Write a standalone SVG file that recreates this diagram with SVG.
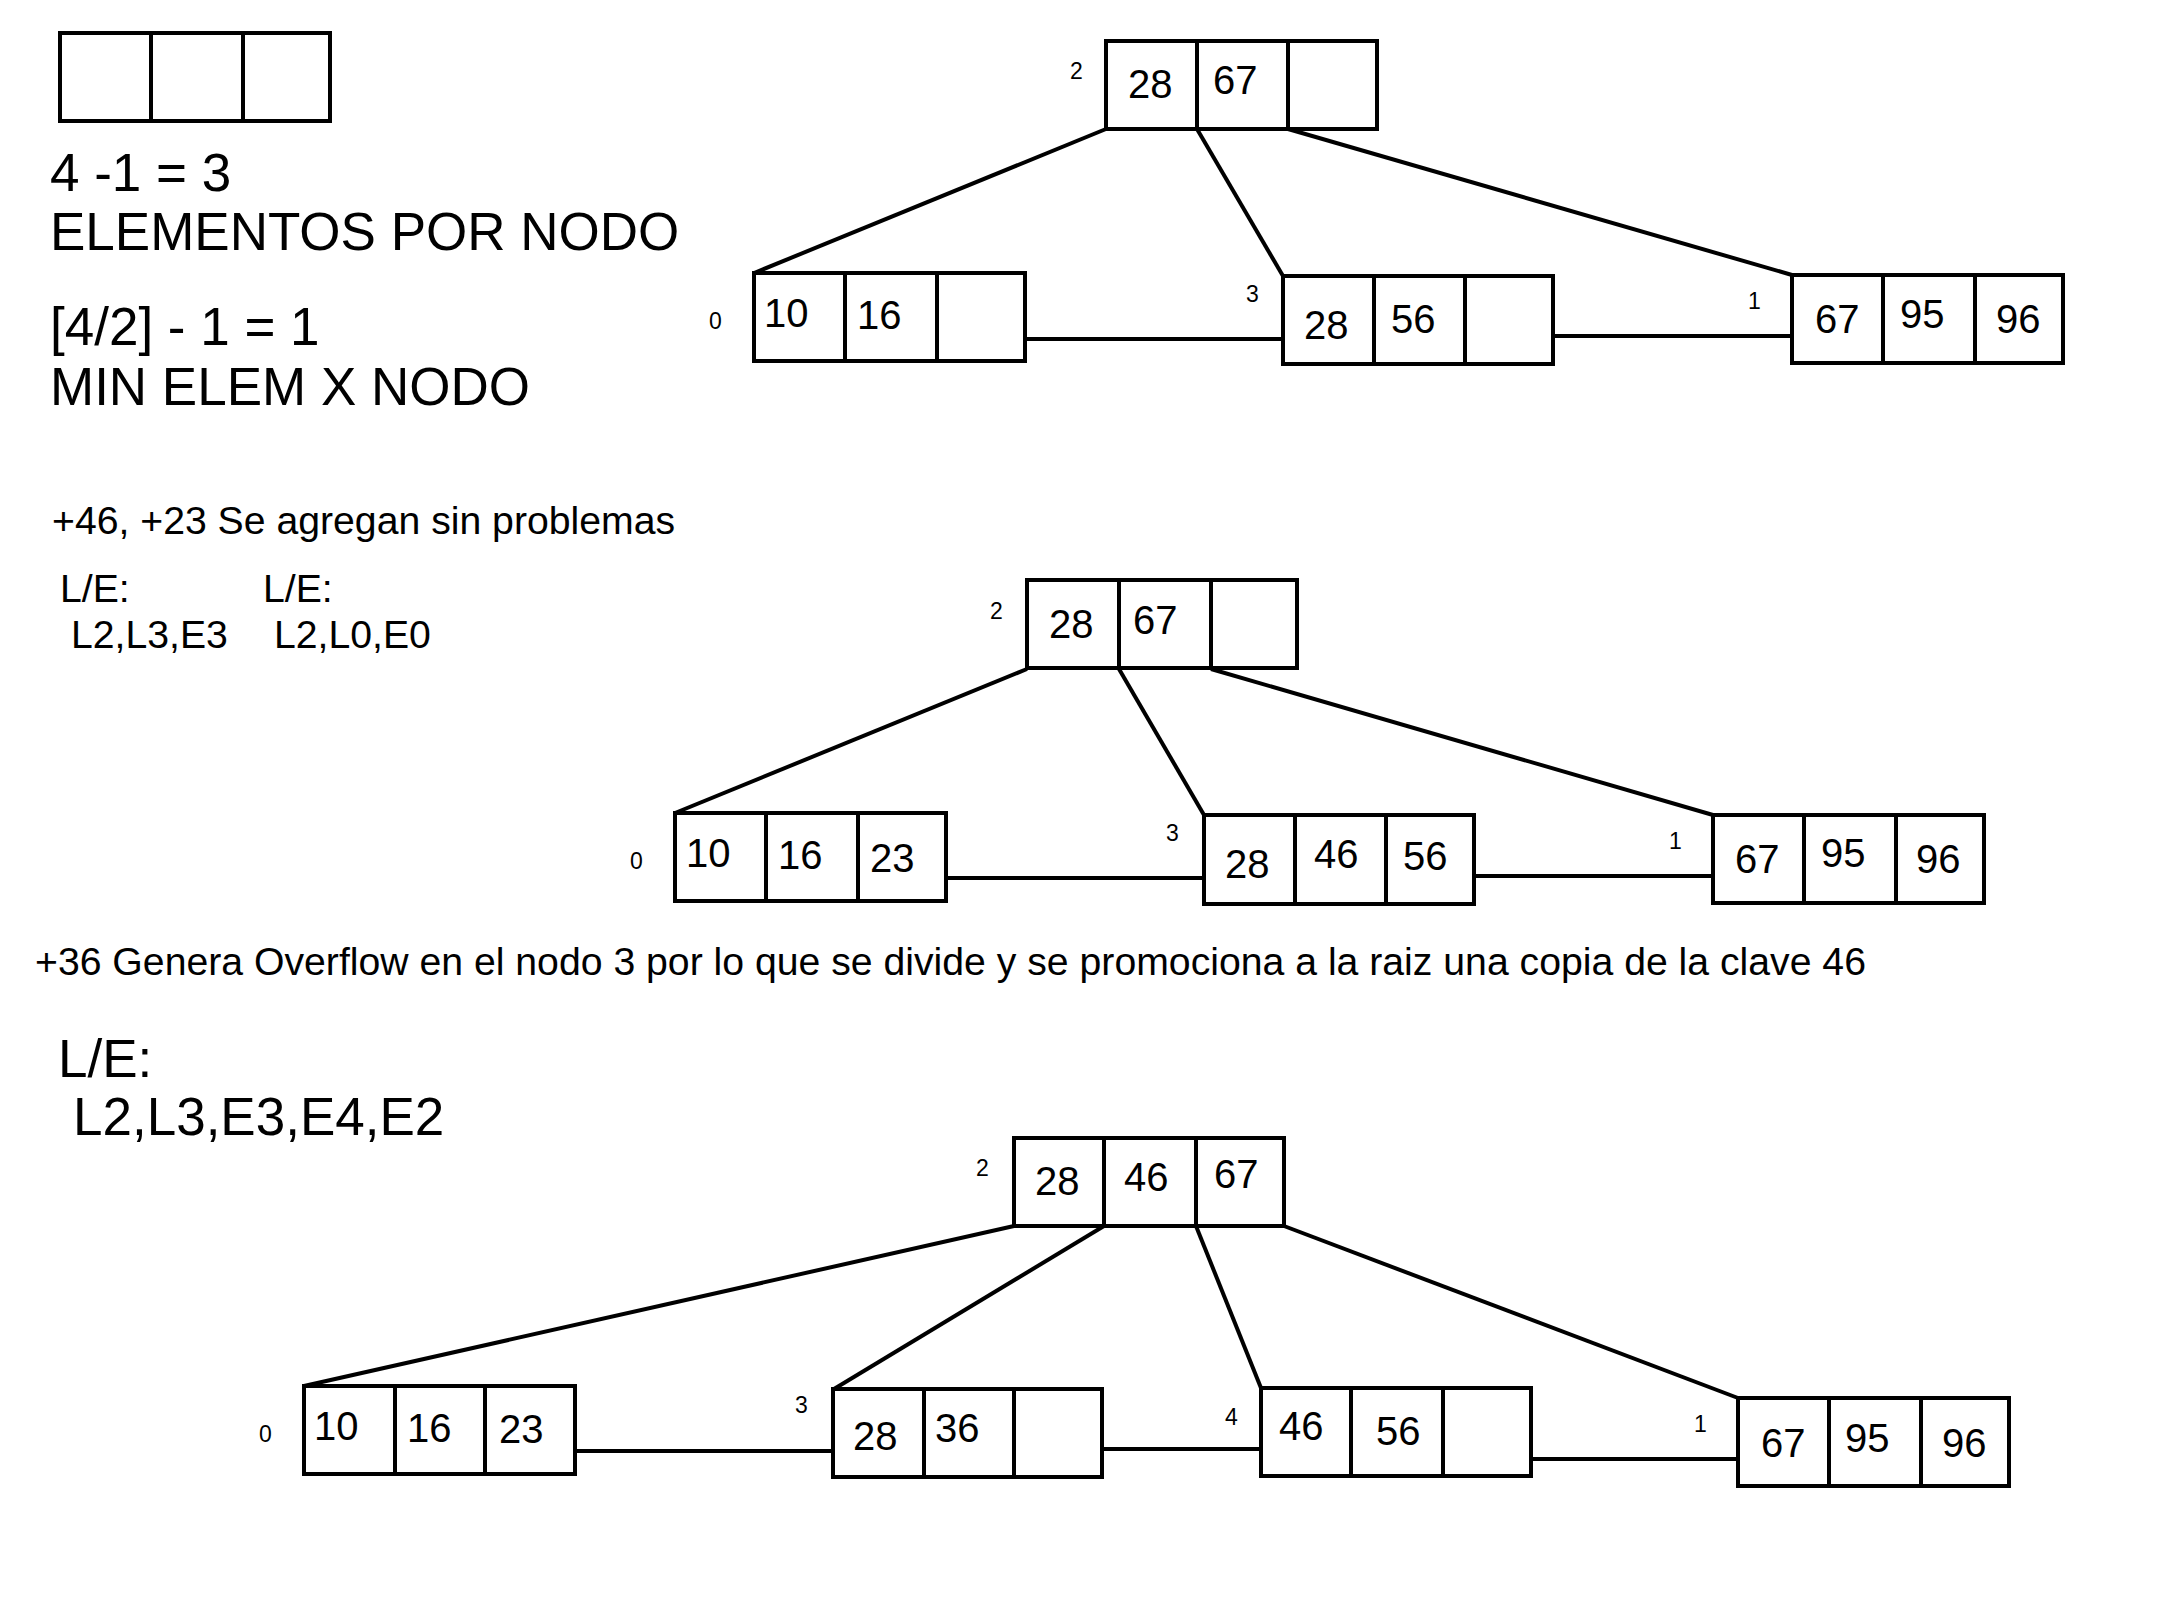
<svg xmlns="http://www.w3.org/2000/svg" width="2180" height="1604" viewBox="0 0 2180 1604">
<style>
.box{fill:#fff;stroke:#000;stroke-width:4}
.div{stroke:#000;stroke-width:4}
.con line{stroke:#000;stroke-width:4}
.k{font-family:"Liberation Sans",Arial,sans-serif;font-size:40px;fill:#000}
.lb{font-family:"Liberation Sans",Arial,sans-serif;font-size:23px;fill:#000}
.big{font-family:"Liberation Sans",Arial,sans-serif;font-size:53px;fill:#000}
.mid{font-family:"Liberation Sans",Arial,sans-serif;font-size:39.2px;fill:#000}
</style>
<rect width="2180" height="1604" fill="#fff"/>

<!-- Top-left explanation -->
<g id="sample">
<rect class="box" x="60" y="33" width="270" height="88"/>
<line class="div" x1="151" y1="33" x2="151" y2="121"/>
<line class="div" x1="243" y1="33" x2="243" y2="121"/>
</g>
<g id="notes">
<text class="big" x="50" y="191">4 -1 = 3</text>
<text class="big" x="50" y="250">ELEMENTOS POR NODO</text>
<text class="big" x="50" y="345">[4/2] - 1 = 1</text>
<text class="big" x="50" y="405">MIN ELEM X NODO</text>
<text class="mid" x="52" y="534">+46, +23 Se agregan sin problemas</text>
<text class="mid" x="60" y="602">L/E:</text>
<text class="mid" x="71" y="648">L2,L3,E3</text>
<text class="mid" x="263" y="602">L/E:</text>
<text class="mid" x="274" y="648">L2,L0,E0</text>
<text class="mid" x="35" y="975">+36 Genera Overflow en el nodo 3 por lo que se divide y se promociona a la raiz una copia de la clave 46</text>
<text class="big" x="58" y="1077">L/E:</text>
<text class="big" x="73" y="1135">L2,L3,E3,E4,E2</text>
</g>

<!-- Connectors -->
<g id="connectors" class="con">
<!-- tree 1 -->
<line x1="1106" y1="129" x2="754" y2="273"/>
<line x1="1197" y1="129" x2="1283" y2="276"/>
<line x1="1288" y1="129" x2="1792" y2="275"/>
<line x1="1025" y1="339" x2="1283" y2="339"/>
<line x1="1553" y1="336" x2="1792" y2="336"/>
<!-- tree 2 -->
<line x1="1027" y1="669" x2="675" y2="813"/>
<line x1="1119" y1="669" x2="1204" y2="815"/>
<line x1="1211" y1="669" x2="1713" y2="815"/>
<line x1="946" y1="878" x2="1204" y2="878"/>
<line x1="1474" y1="876" x2="1713" y2="876"/>
<!-- tree 3 -->
<line x1="1014" y1="1226" x2="304" y2="1386"/>
<line x1="1104" y1="1226" x2="834" y2="1389"/>
<line x1="1196" y1="1226" x2="1261" y2="1388"/>
<line x1="1284" y1="1226" x2="1738" y2="1398"/>
<line x1="575" y1="1451" x2="833" y2="1451"/>
<line x1="1102" y1="1449" x2="1261" y2="1449"/>
<line x1="1531" y1="1459" x2="1738" y2="1459"/>
</g>

<!-- Tree 1 -->
<g id="t1-node2">
<rect class="box" x="1106" y="41" width="271" height="88"/>
<line class="div" x1="1197" y1="41" x2="1197" y2="129"/>
<line class="div" x1="1288" y1="41" x2="1288" y2="129"/>
<text class="lb" x="1070" y="79">2</text>
<text class="k" x="1128" y="98">28</text>
<text class="k" x="1213" y="94">67</text>
</g>
<g id="t1-node0">
<rect class="box" x="754" y="273" width="271" height="88"/>
<line class="div" x1="845" y1="273" x2="845" y2="361"/>
<line class="div" x1="937" y1="273" x2="937" y2="361"/>
<text class="lb" x="709" y="329">0</text>
<text class="k" x="764" y="327">10</text>
<text class="k" x="857" y="329">16</text>
</g>
<g id="t1-node3">
<rect class="box" x="1283" y="276" width="270" height="88"/>
<line class="div" x1="1374" y1="276" x2="1374" y2="364"/>
<line class="div" x1="1465" y1="276" x2="1465" y2="364"/>
<text class="lb" x="1246" y="302">3</text>
<text class="k" x="1304" y="339">28</text>
<text class="k" x="1391" y="333">56</text>
</g>
<g id="t1-node1">
<rect class="box" x="1792" y="275" width="271" height="88"/>
<line class="div" x1="1883" y1="275" x2="1883" y2="363"/>
<line class="div" x1="1975" y1="275" x2="1975" y2="363"/>
<text class="lb" x="1748" y="309">1</text>
<text class="k" x="1815" y="333">67</text>
<text class="k" x="1900" y="328">95</text>
<text class="k" x="1996" y="333">96</text>
</g>

<!-- Tree 2 -->
<g id="t2-node2">
<rect class="box" x="1027" y="580" width="270" height="88"/>
<line class="div" x1="1119" y1="580" x2="1119" y2="668"/>
<line class="div" x1="1211" y1="580" x2="1211" y2="668"/>
<text class="lb" x="990" y="619">2</text>
<text class="k" x="1049" y="638">28</text>
<text class="k" x="1133" y="634">67</text>
</g>
<g id="t2-node0">
<rect class="box" x="675" y="813" width="271" height="88"/>
<line class="div" x1="766" y1="813" x2="766" y2="901"/>
<line class="div" x1="858" y1="813" x2="858" y2="901"/>
<text class="lb" x="630" y="869">0</text>
<text class="k" x="686" y="867">10</text>
<text class="k" x="778" y="869">16</text>
<text class="k" x="870" y="872">23</text>
</g>
<g id="t2-node3">
<rect class="box" x="1204" y="815" width="270" height="89"/>
<line class="div" x1="1295" y1="815" x2="1295" y2="904"/>
<line class="div" x1="1386" y1="815" x2="1386" y2="904"/>
<text class="lb" x="1166" y="841">3</text>
<text class="k" x="1225" y="878">28</text>
<text class="k" x="1314" y="868">46</text>
<text class="k" x="1403" y="870">56</text>
</g>
<g id="t2-node1">
<rect class="box" x="1713" y="815" width="271" height="88"/>
<line class="div" x1="1804" y1="815" x2="1804" y2="903"/>
<line class="div" x1="1896" y1="815" x2="1896" y2="903"/>
<text class="lb" x="1669" y="849">1</text>
<text class="k" x="1735" y="873">67</text>
<text class="k" x="1821" y="867">95</text>
<text class="k" x="1916" y="873">96</text>
</g>

<!-- Tree 3 -->
<g id="t3-node2">
<rect class="box" x="1014" y="1138" width="270" height="88"/>
<line class="div" x1="1104" y1="1138" x2="1104" y2="1226"/>
<line class="div" x1="1196" y1="1138" x2="1196" y2="1226"/>
<text class="lb" x="976" y="1176">2</text>
<text class="k" x="1035" y="1195">28</text>
<text class="k" x="1124" y="1191">46</text>
<text class="k" x="1214" y="1188">67</text>
</g>
<g id="t3-node0">
<rect class="box" x="304" y="1386" width="271" height="88"/>
<line class="div" x1="395" y1="1386" x2="395" y2="1474"/>
<line class="div" x1="485" y1="1386" x2="485" y2="1474"/>
<text class="lb" x="259" y="1442">0</text>
<text class="k" x="314" y="1440">10</text>
<text class="k" x="407" y="1442">16</text>
<text class="k" x="499" y="1443">23</text>
</g>
<g id="t3-node3">
<rect class="box" x="833" y="1389" width="269" height="88"/>
<line class="div" x1="924" y1="1389" x2="924" y2="1477"/>
<line class="div" x1="1014" y1="1389" x2="1014" y2="1477"/>
<text class="lb" x="795" y="1413">3</text>
<text class="k" x="853" y="1450">28</text>
<text class="k" x="935" y="1442">36</text>
</g>
<g id="t3-node4">
<rect class="box" x="1261" y="1388" width="270" height="88"/>
<line class="div" x1="1351" y1="1388" x2="1351" y2="1476"/>
<line class="div" x1="1443" y1="1388" x2="1443" y2="1476"/>
<text class="lb" x="1225" y="1425">4</text>
<text class="k" x="1279" y="1440">46</text>
<text class="k" x="1376" y="1445">56</text>
</g>
<g id="t3-node1">
<rect class="box" x="1738" y="1398" width="271" height="88"/>
<line class="div" x1="1829" y1="1398" x2="1829" y2="1486"/>
<line class="div" x1="1921" y1="1398" x2="1921" y2="1486"/>
<text class="lb" x="1694" y="1432">1</text>
<text class="k" x="1761" y="1457">67</text>
<text class="k" x="1845" y="1452">95</text>
<text class="k" x="1942" y="1457">96</text>
</g>
</svg>
